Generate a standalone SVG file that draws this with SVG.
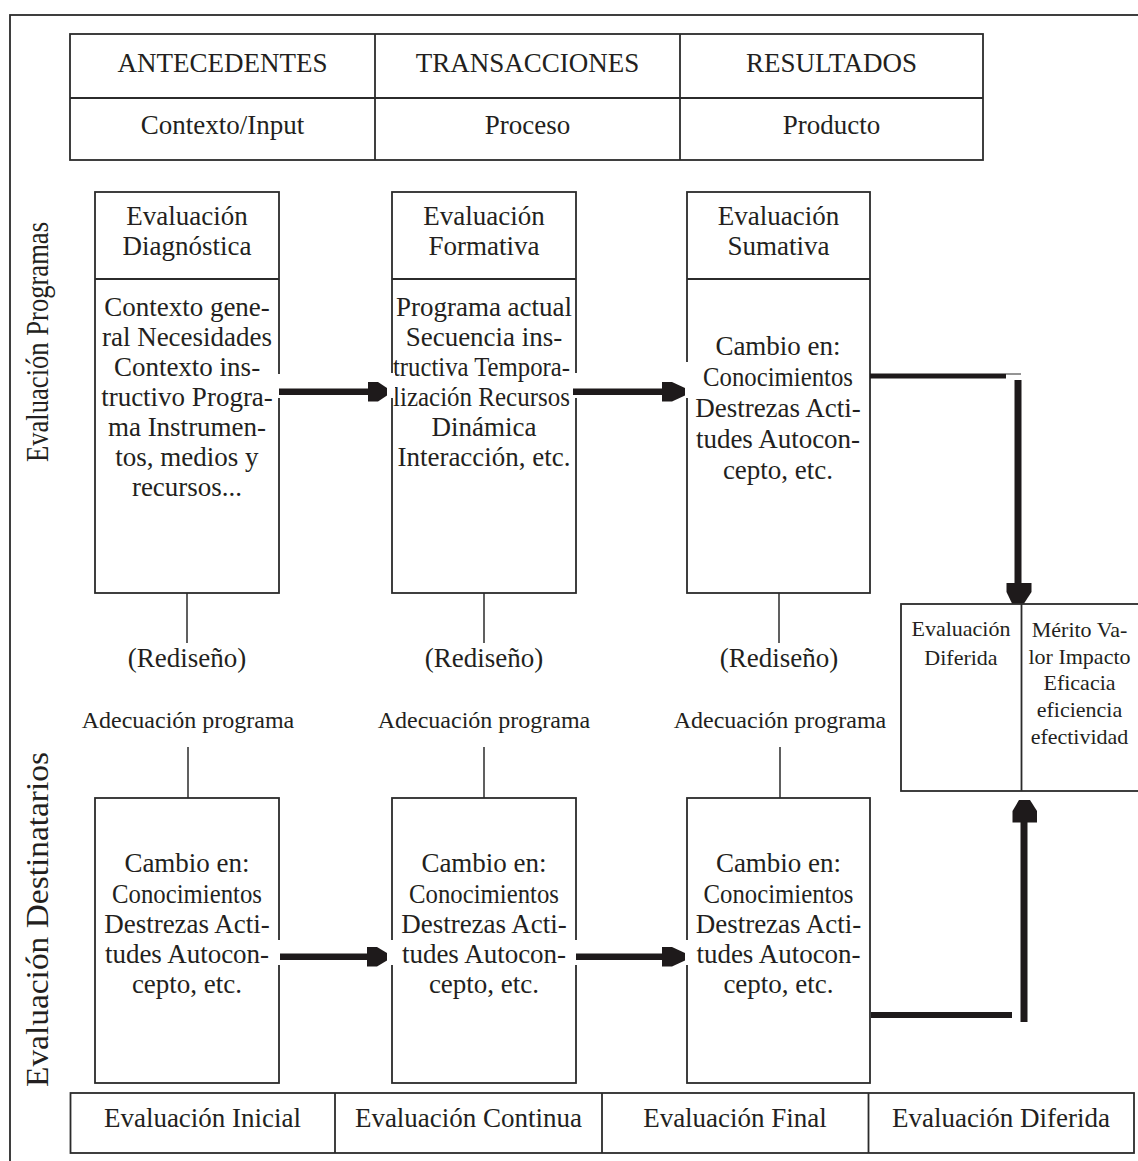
<svg xmlns="http://www.w3.org/2000/svg" width="1138" height="1161" viewBox="0 0 1138 1161">
<style>
.ln{fill:none;stroke:#2b2b2b;stroke-width:1.8}
.thin{fill:none;stroke:#2b2b2b;stroke-width:1.5}
.t{font-family:"Liberation Serif","Times New Roman",serif;font-size:27px;fill:#231f20;text-anchor:middle}
.s{font-size:22px}
.m{font-size:24px}
.side{font-size:31.5px;text-anchor:start}
.bar{fill:#1e1a1b}
.gap{fill:#fff}
</style>
<rect x="0" y="0" width="1138" height="1161" fill="#fff"/>
<rect id="frame" x="10" y="15" width="1150" height="1170" class="ln"/>

<g id="header-table">
<rect x="70" y="34" width="913" height="126" class="ln"/>
<line x1="70" y1="98" x2="983" y2="98" class="ln"/>
<line x1="375" y1="34" x2="375" y2="160" class="ln"/>
<line x1="680" y1="34" x2="680" y2="160" class="ln"/>
<text class="t" x="222.5" y="72">ANTECEDENTES</text>
<text class="t" x="527.5" y="72">TRANSACCIONES</text>
<text class="t" x="831.5" y="72">RESULTADOS</text>
<text class="t" x="222.5" y="134">Contexto/Input</text>
<text class="t" x="527.5" y="134">Proceso</text>
<text class="t" x="831.5" y="134">Producto</text>
</g>

<g id="label-programas"><text class="t side" transform="translate(48,462) rotate(-90)" textLength="240" lengthAdjust="spacingAndGlyphs">Evaluación Programas</text></g>
<g id="label-destinatarios"><text class="t side" transform="translate(48,1087) rotate(-90)" textLength="335" lengthAdjust="spacingAndGlyphs">Evaluación Destinatarios</text></g>

<g id="connectors">
<line x1="187" y1="593" x2="187" y2="643" class="thin"/>
<line x1="484" y1="593" x2="484" y2="643" class="thin"/>
<line x1="779" y1="593" x2="779" y2="643" class="thin"/>
<line x1="188" y1="747" x2="188" y2="798" class="thin"/>
<line x1="484" y1="747" x2="484" y2="798" class="thin"/>
<line x1="780" y1="747" x2="780" y2="798" class="thin"/>
</g>

<g id="box-diagnostica">
<rect x="95" y="192" width="184" height="401" class="ln"/>
<line x1="95" y1="279" x2="279" y2="279" class="ln"/>
<text class="t" x="187" y="225">Evaluación</text>
<text class="t" x="187" y="255">Diagnóstica</text>
<text class="t" x="187" y="316">Contexto gene-</text>
<text class="t" x="187" y="346">ral Necesidades</text>
<text class="t" x="187" y="376">Contexto ins-</text>
<text class="t" x="187" y="406">tructivo Progra-</text>
<text class="t" x="187" y="436">ma Instrumen-</text>
<text class="t" x="187" y="466">tos, medios y</text>
<text class="t" x="187" y="496">recursos...</text>
</g>

<g id="box-formativa">
<rect x="392" y="192" width="184" height="401" class="ln"/>
<line x1="392" y1="279" x2="576" y2="279" class="ln"/>
<text class="t" x="484" y="225">Evaluación</text>
<text class="t" x="484" y="255">Formativa</text>
<text class="t" x="484" y="316">Programa actual</text>
<text class="t" x="484" y="346">Secuencia ins-</text>
<text class="t" x="481.5" y="376" textLength="177" lengthAdjust="spacingAndGlyphs">tructiva Tempora-</text>
<text class="t" x="481.5" y="406" textLength="177" lengthAdjust="spacingAndGlyphs">lización Recursos</text>
<text class="t" x="484" y="436">Dinámica</text>
<text class="t" x="484" y="466">Interacción, etc.</text>
</g>

<g id="box-sumativa">
<rect x="687" y="192" width="183" height="401" class="ln"/>
<line x1="687" y1="279" x2="870" y2="279" class="ln"/>
<text class="t" x="778.5" y="225">Evaluación</text>
<text class="t" x="778.5" y="255">Sumativa</text>
<text class="t" x="778" y="355">Cambio en:</text>
<text class="t" x="778" y="386" textLength="150" lengthAdjust="spacingAndGlyphs">Conocimientos</text>
<text class="t" x="778" y="417">Destrezas Acti-</text>
<text class="t" x="778" y="448">tudes Autocon-</text>
<text class="t" x="778" y="479">cepto, etc.</text>
</g>

<g id="redisenos">
<text class="t" x="187" y="667">(Rediseño)</text>
<text class="t" x="484" y="667">(Rediseño)</text>
<text class="t" x="779" y="667">(Rediseño)</text>
<text class="t m" x="188" y="728">Adecuación programa</text>
<text class="t m" x="484" y="728">Adecuación programa</text>
<text class="t m" x="780" y="728">Adecuación programa</text>
</g>

<g id="box-diferida">
<rect x="901" y="604" width="240" height="187" class="ln"/>
<line x1="1021.5" y1="604" x2="1021.5" y2="791" class="ln"/>
<text class="t s" x="961" y="636">Evaluación</text>
<text class="t s" x="961" y="665">Diferida</text>
<text class="t s" x="1079.5" y="637">Mérito Va-</text>
<text class="t s" x="1079.5" y="664">lor Impacto</text>
<text class="t s" x="1079.5" y="690">Eficacia</text>
<text class="t s" x="1079.5" y="717">eficiencia</text>
<text class="t s" x="1079.5" y="744">efectividad</text>
</g>

<g id="box-inicial">
<rect x="95" y="798" width="184" height="285" class="ln"/>
<text class="t" x="187" y="872">Cambio en:</text>
<text class="t" x="187" y="903" textLength="150" lengthAdjust="spacingAndGlyphs">Conocimientos</text>
<text class="t" x="187" y="933">Destrezas Acti-</text>
<text class="t" x="187" y="963">tudes Autocon-</text>
<text class="t" x="187" y="993">cepto, etc.</text>
</g>

<g id="box-continua">
<rect x="392" y="798" width="184" height="285" class="ln"/>
<text class="t" x="484" y="872">Cambio en:</text>
<text class="t" x="484" y="903" textLength="150" lengthAdjust="spacingAndGlyphs">Conocimientos</text>
<text class="t" x="484" y="933">Destrezas Acti-</text>
<text class="t" x="484" y="963">tudes Autocon-</text>
<text class="t" x="484" y="993">cepto, etc.</text>
</g>

<g id="box-final">
<rect x="687" y="798" width="183" height="285" class="ln"/>
<text class="t" x="778.5" y="872">Cambio en:</text>
<text class="t" x="778.5" y="903" textLength="150" lengthAdjust="spacingAndGlyphs">Conocimientos</text>
<text class="t" x="778.5" y="933">Destrezas Acti-</text>
<text class="t" x="778.5" y="963">tudes Autocon-</text>
<text class="t" x="778.5" y="993">cepto, etc.</text>
</g>

<g id="arrows">
<rect class="gap" x="276" y="374" width="6" height="24"/>
<rect class="gap" x="389" y="373" width="6" height="25"/>
<rect class="gap" x="573" y="373" width="6" height="25"/>
<rect class="gap" x="684" y="362" width="6" height="36"/>
<rect class="gap" x="276" y="940" width="6" height="25"/>
<rect class="gap" x="389" y="940" width="6" height="25"/>
<rect class="gap" x="573" y="940" width="6" height="25"/>
<rect class="gap" x="684" y="940" width="6" height="25"/>
<rect class="bar" x="279" y="388.5" width="90" height="6.5"/>
<polygon class="bar" points="368,382 378,382 387,388 387,395.5 378,401.5 368,401.5"/>
<rect class="bar" x="573" y="388.5" width="90" height="6.5"/>
<polygon class="bar" points="662,382 672,382 685,388 685,395.5 672,401.5 662,401.5"/>
<rect class="bar" x="280" y="953.5" width="88" height="6.5"/>
<polygon class="bar" points="367,947 377,947 387,953 387,960.5 377,966.5 367,966.5"/>
<rect class="bar" x="576" y="953.5" width="87" height="6.5"/>
<polygon class="bar" points="662,947 672,947 685,953 685,960.5 672,966.5 662,966.5"/>
<rect class="bar" x="870" y="373.5" width="136" height="5"/>
<line x1="1006" y1="374" x2="1021" y2="374" stroke="#2b2b2b" stroke-width="1"/>
<rect class="bar" x="1014.5" y="380" width="7" height="204"/>
<polygon class="bar" points="1006.5,583 1031.5,583 1031.5,592 1024,603.5 1012,603.5 1006.5,592"/>
<rect class="bar" x="871" y="1012" width="141" height="6"/>
<rect class="bar" x="1020.5" y="821" width="7" height="201"/>
<polygon class="bar" points="1019,800 1030,800 1037,811 1037,822.5 1012.5,822.5 1012.5,811"/>
</g>

<g id="footer-table">
<rect x="70.5" y="1093" width="1063.5" height="60" class="ln"/>
<line x1="335" y1="1093" x2="335" y2="1153" class="ln"/>
<line x1="602" y1="1093" x2="602" y2="1153" class="ln"/>
<line x1="868.5" y1="1093" x2="868.5" y2="1153" class="ln"/>
<text class="t" x="202.5" y="1127">Evaluación Inicial</text>
<text class="t" x="468.5" y="1127">Evaluación Continua</text>
<text class="t" x="735" y="1127">Evaluación Final</text>
<text class="t" x="1001" y="1127">Evaluación Diferida</text>
</g>
</svg>
